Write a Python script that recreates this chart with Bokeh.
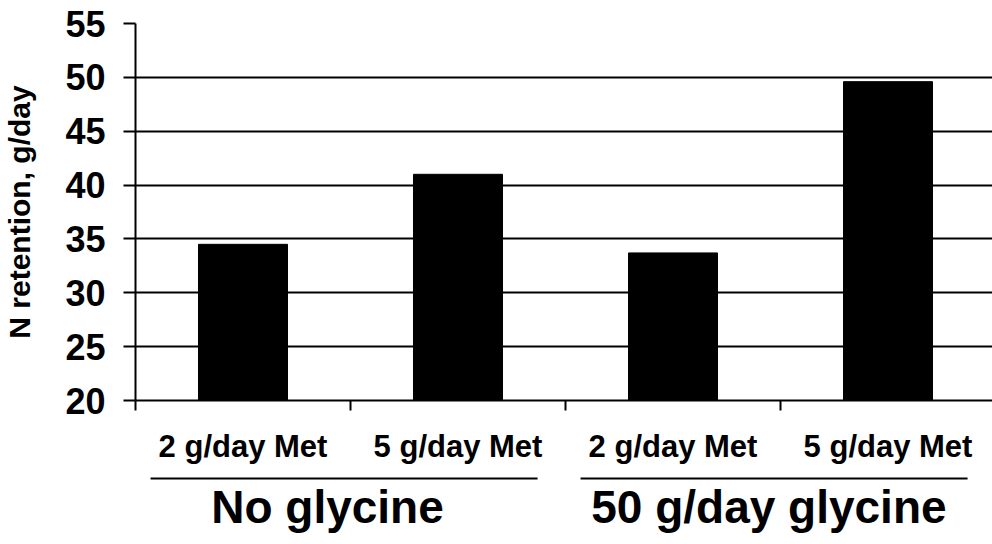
from bokeh.plotting import figure
from bokeh.layouts import column
from bokeh.models import Range1d, LinearAxis, FixedTicker, ColumnDataSource
from bokeh.core.properties import value
from bokeh.embed import file_html
from bokeh.resources import INLINE

categories = ["2 g/day Met", "5 g/day Met", "2 g/day Met", "5 g/day Met"]
retention = [34.5, 41.0, 33.7, 49.6]
groups = ["No glycine", "50 g/day glycine"]
y_ticks = [20, 25, 30, 35, 40, 45, 50, 55]

FONT = "Liberation Sans"
x_pos = [i + 0.5 for i in range(len(categories))]
group_pos = [1.0, 3.0]
label_shift = [-0.107, -0.054]   # layout nudges of group titles

W = 992
TOP_H = 430
xr = Range1d(0, 3.986)

p = figure(width=W, height=TOP_H, output_backend="svg", toolbar_location=None,
           x_range=xr, y_range=Range1d(20, 55),
           min_border_left=135, min_border_top=23, min_border_bottom=30, min_border_right=0,
           x_axis_location=None, y_axis_location=None)
p.outline_line_color = None
p.xgrid.visible = False

# y axis
yax = LinearAxis(ticker=FixedTicker(ticks=y_ticks))
yax.axis_label = "N retention, g/day"
yax.axis_label_text_font = FONT
yax.axis_label_text_font_style = "bold"
yax.axis_label_text_font_size = "30px"
yax.axis_label_text_color = "black"
yax.axis_label_standoff = 26
yax.major_label_text_font = FONT
yax.major_label_text_font_style = "bold"
yax.major_label_text_font_size = "36px"
yax.major_label_text_color = "black"
yax.major_label_standoff = 18
yax.axis_line_width = 2
yax.major_tick_line_width = 2
yax.major_tick_out = 12
yax.major_tick_in = 0
yax.minor_tick_line_color = None
p.add_layout(yax, "left")

p.ygrid.ticker = FixedTicker(ticks=y_ticks[1:])
p.ygrid.grid_line_color = "black"
p.ygrid.grid_line_width = 2

# x axis with category-boundary ticks
xax = LinearAxis(ticker=FixedTicker(ticks=[0, 1, 2, 3]))
xax.major_label_overrides = {0: "", 1: "", 2: "", 3: ""}
xax.axis_line_width = 2
xax.major_tick_line_width = 2
xax.major_tick_out = 10
xax.major_tick_in = 0
xax.minor_tick_line_color = None
p.add_layout(xax, "below")

src = ColumnDataSource(dict(x=x_pos, top=retention))
p.vbar(x="x", top="top", bottom=20, width=0.414, source=src,
       fill_color="black", line_color="black")

# lower panel: category labels, group underlines, group labels
BOT_H = 544 - TOP_H
q = figure(width=W, height=BOT_H, output_backend="svg", toolbar_location=None,
           x_range=xr, y_range=Range1d(BOT_H, 0),
           min_border_left=135, min_border_top=0, min_border_bottom=0, min_border_right=0,
           x_axis_location=None, y_axis_location=None)
q.outline_line_color = None
q.grid.visible = False

csrc = ColumnDataSource(dict(x=x_pos, label=categories))
q.text(x="x", y=16, text="label", source=csrc, text_align="center",
       text_baseline="middle", text_font=value(FONT), text_font_style="bold",
       text_font_size="31px", text_color="black")

gsrc = ColumnDataSource(dict(x=[g + s for g, s in zip(group_pos, label_shift)],
                             x0=[g - 0.93 for g in group_pos],
                             x1=[g + 0.87 for g in group_pos], label=groups))
q.segment(x0="x0", x1="x1", y0=48, y1=48, source=gsrc,
          line_color="black", line_width=2)
q.text(x="x", y=76, text="label", source=gsrc, text_align="center",
       text_baseline="middle", text_font=value(FONT), text_font_style="bold",
       text_font_size="46px", text_color="black")

layout = column(p, q, spacing=0)
open("out.html", "w").write(file_html(layout, INLINE))
